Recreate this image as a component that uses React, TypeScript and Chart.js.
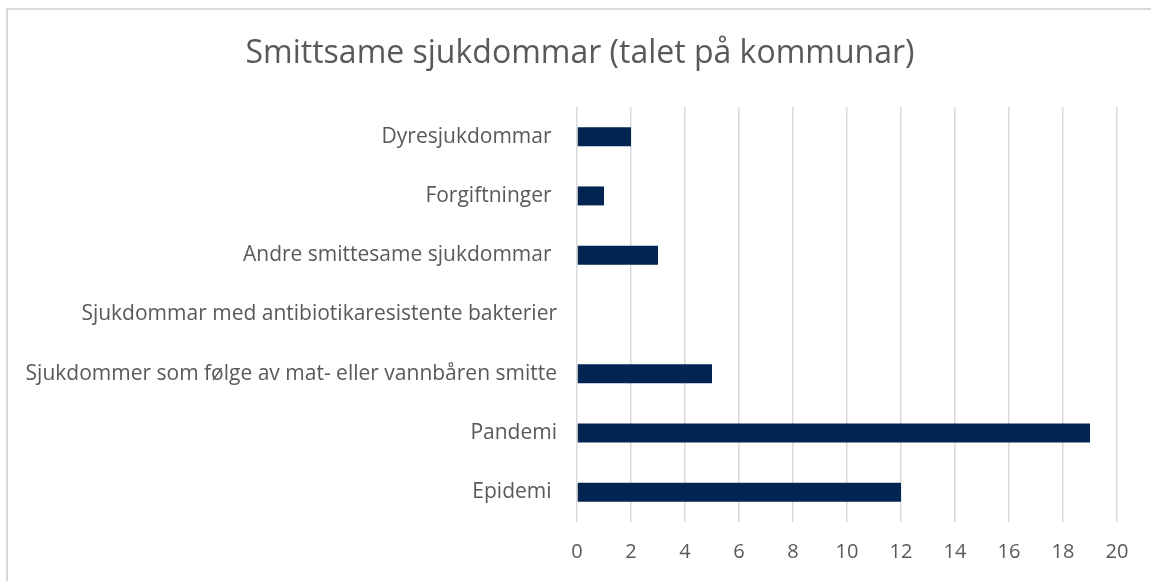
import React, { useEffect, useRef } from "react";
import { Chart, registerables } from "chart.js";

Chart.register(...registerables);

const categories: string[] = [
  "Dyresjukdommar ",
  "Forgiftninger ",
  "Andre smittesame sjukdommar ",
  "Sjukdommar med antibiotikaresistente bakterier",
  "Sjukdommer som følge av mat- eller vannbåren smitte",
  "Pandemi",
  "Epidemi ",
];

const kommunar: number[] = [2, 1, 3, 0, 5, 19, 12];

const xTickMin = 0;
const xTickMax = 20;
const xTickStep = 2;

const titleText = "Smittsame sjukdommar (talet på kommunar)";

const FONT = "'Open Sans', sans-serif";
const TEXT = "#595959";
const GRID = "#d9d9d9";
const BAR = "#022451";

const centeredTitle = {
  id: "centeredTitle",
  afterDraw(chart: any) {
    const ctx = chart.ctx;
    ctx.save();
    ctx.font = `normal 32px ${FONT}`;
    ctx.fillStyle = TEXT;
    ctx.textAlign = "center";
    ctx.textBaseline = "middle";
    ctx.fillText(titleText, 580, 54);
    ctx.restore();
  },
};

export default function App() {
  const ref = useRef<HTMLCanvasElement | null>(null);

  useEffect(() => {
    if (!ref.current) return;
    const chart = new Chart(ref.current, {
      type: "bar",
      data: {
        labels: categories,
        datasets: [
          {
            label: "Talet på kommunar",
            data: kommunar,
            backgroundColor: BAR,
            borderWidth: 0,
            barPercentage: 0.32,
            categoryPercentage: 1,
          },
        ],
      },
      plugins: [centeredTitle],
      options: {
        indexAxis: "y",
        animation: false,
        responsive: false,
        maintainAspectRatio: false,
        layout: { padding: { left: 0, right: 34, top: 107, bottom: 0 } },
        plugins: {
          legend: { display: false },
          tooltip: { enabled: false },
          title: { display: false },
        },
        scales: {
          x: {
            min: xTickMin,
            max: xTickMax,
            ticks: {
              stepSize: xTickStep,
              color: TEXT,
              font: { family: FONT, size: 20 },
              padding: 18,
              maxRotation: 0,
            },
            grid: {
              color: GRID,
              lineWidth: 1.5,
              drawTicks: false,
            },
            border: { display: false },
            afterFit: (scale: any) => {
              scale.height = 59;
            },
          },
          y: {
            ticks: {
              color: TEXT,
              font: { family: FONT, size: 21 },
              padding: 20,
            },
            grid: { display: false, drawTicks: false },
            border: { display: false },
            afterFit: (scale: any) => {
              scale.width = 577;
            },
          },
        },
      },
    });
    return () => chart.destroy();
  }, []);

  return (
    <div style={{ position: "absolute", left: 0, top: 0, width: 1151, height: 581, background: "#fff", overflow: "hidden" }}>
      <div
        style={{
          position: "absolute",
          left: 6,
          top: 8,
          width: 1200,
          height: 640,
          borderLeft: "2px solid #d9d9d9",
          borderTop: "2px solid #d9d9d9",
        }}
      />
      <canvas ref={ref} width={1151} height={581} style={{ position: "absolute", left: 0, top: 0, width: 1151, height: 581 }} />
    </div>
  );
}
